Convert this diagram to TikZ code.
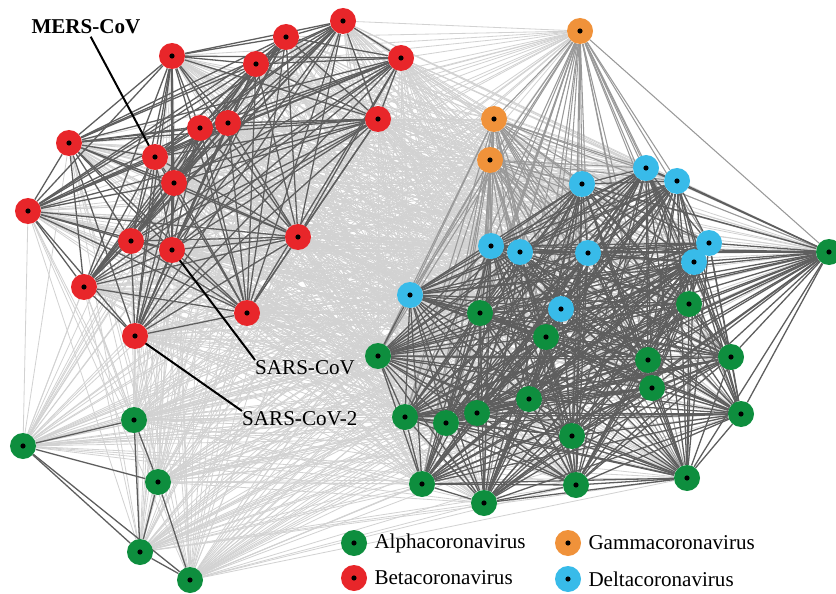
\documentclass[tikz,border=0pt]{standalone}
\usepackage{fontspec}
\setmainfont{Liberation Serif}
\usepackage{xcolor}
\usepackage{tikz}
\usetikzlibrary{calc}
\definecolor{alphac}{HTML}{0E8E3E}
\definecolor{betac}{HTML}{E8262A}
\definecolor{gammac}{HTML}{F0923A}
\definecolor{deltac}{HTML}{38BBE9}
\definecolor{darkedge}{HTML}{5E5E5E}
\definecolor{midedge}{HTML}{999999}
\definecolor{faintedge}{HTML}{D2D2D2}
\pgfdeclarelayer{edges}
\pgfsetlayers{edges,main}
\tikzset{
  virus/.style={circle, minimum size=0.78cm, inner sep=0pt,
    path picture={\fill[black] (path picture bounding box.center) circle (2.2pt);}},
  alpha/.style={virus, fill=alphac},
  beta/.style={virus, fill=betac},
  gamma/.style={virus, fill=gammac},
  delta/.style={virus, fill=deltac},
  strong/.style={draw=darkedge, line width=1.1pt},
  mid/.style={draw=midedge, line width=0.9pt},
  faint/.style={draw=faintedge, line width=0.7pt},
  pointer/.style={draw=black, line width=1.7pt},
  lab/.style={text=black, font=\fontsize{18}{20}\selectfont, inner sep=0pt},
}
\newcommand{\betaset}{b1,b2,b3,b4,b5,b6,b7,b8,b9,b10,b11,b12,b13,b14,b15,b16,b17,b18}
\newcommand{\gammaset}{c1,c2,c3}
\newcommand{\mainset}{d1,d2,d3,d4,d5,d6,d7,d8,d9,d10,a1,a2,a3,a4,a5,a6,a7,a8,a9,a10,a11,a12,a13,a14,a15,a16,a17,a18}
\edef\rightset{\gammaset,\mainset}
\edef\everyset{\betaset,\gammaset,\mainset}
\newcommand{\lowset}{l1,l2,l3,l4,l5}

\begin{document}
\begin{tikzpicture}[x=0.03cm, y=-0.03cm]
  \useasboundingbox (0,0) rectangle (836,594);

  % Betacoronavirus
  \foreach \n/\x/\y in {b1/343/21, b2/286/37, b3/256/64, b4/172/56, b5/401/58,
      b6/378/119, b7/200/128, b8/228/123, b9/69/143, b10/155/157, b11/174/183,
      b12/28/211, b13/131/241, b14/172/250, b15/298/237, b16/84/287,
      b17/247/313, b18/135/336}
    \node[beta] (\n) at (\x,\y) {};

  % Gammacoronavirus
  \foreach \n/\x/\y in {c1/580/31, c2/494/119, c3/490/160}
    \node[gamma] (\n) at (\x,\y) {};

  % Deltacoronavirus
  \foreach \n/\x/\y in {d1/646/168, d2/677/181, d3/582/184, d4/491/246,
      d5/520/252, d6/588/253, d7/709/243, d8/694/262, d9/410/295, d10/561/309}
    \node[delta] (\n) at (\x,\y) {};

  % Alphacoronavirus
  \foreach \n/\x/\y in {a1/829/252, a2/689/304, a3/546/337, a4/378/356,
      a5/648/360, a6/731/357, a7/652/388, a8/529/399, a9/405/417, a10/477/413,
      a11/446/423, a12/741/414, a13/572/436, a14/480/313, a15/422/484,
      a16/484/503, a17/576/485, a18/687/478}
    \node[alpha] (\n) at (\x,\y) {};
  \foreach \n/\x/\y in {l1/134/420, l2/23/446, l3/158/482, l4/140/552, l5/190/580}
    \node[alpha] (\n) at (\x,\y) {};

  \begin{pgfonlayer}{edges}
    % weak links between groups
    \foreach \u in \betaset {
      \foreach \v in \rightset { \draw[faint] (\u) -- (\v); }
    }
    \foreach \u in \lowset {
      \foreach \v in \everyset { \draw[faint] (\u) -- (\v); }
    }
    % gamma links
    \foreach \u in \gammaset {
      \foreach \v in \mainset { \draw[mid] (\u) -- (\v); }
    }
    \draw[mid] (c1) -- (c2) (c1) -- (c3) (c2) -- (c3);
    % dense clusters
    \foreach \u [count=\i] in \betaset {
      \foreach \v [count=\j] in \betaset {
        \ifnum\j>\i \draw[strong] (\u) -- (\v); \fi
      }
    }
    \foreach \u [count=\i] in \mainset {
      \foreach \v [count=\j] in \mainset {
        \ifnum\j>\i \draw[strong] (\u) -- (\v); \fi
      }
    }
    \foreach \u/\v in {l2/l1, l2/l3, l2/l4, l2/l5, l1/l3, l1/l4, l3/l4, l3/l5, l4/l5}
      \draw[strong] (\u) -- (\v);
  \end{pgfonlayer}

  % labels
  \node[lab, font=\fontsize{18}{20}\selectfont\bfseries] (mers) at (86,27) {MERS-CoV};
  \node[lab, anchor=north west] (sars) at (255,360) {SARS-CoV};
  \node[lab, anchor=north west] (sars2) at (242,411) {SARS-CoV-2};
  \begin{pgfonlayer}{edges}
    \draw[pointer] ([xshift=4pt,yshift=-2pt]mers.south) -- (b10.center);
    \draw[pointer] (b14.center) -- (sars.north west);
    \draw[pointer] (b18.center) -- (sars2.north west);
  \end{pgfonlayer}

  % legend
  \node[alpha] (kalpha) at (354,543) {};
  \node[beta]  (kbeta)  at (354,578) {};
  \node[gamma] (kgamma) at (568,543) {};
  \node[delta] (kdelta) at (568,579) {};
  \node[lab, anchor=west] at ([xshift=6pt]kalpha.east) {Alphacoronavirus};
  \node[lab, anchor=west] at ([xshift=6pt]kbeta.east) {Betacoronavirus};
  \node[lab, anchor=west] at ([xshift=6pt]kgamma.east) {Gammacoronavirus};
  \node[lab, anchor=west] at ([xshift=6pt]kdelta.east) {Deltacoronavirus};
\end{tikzpicture}
\end{document}
